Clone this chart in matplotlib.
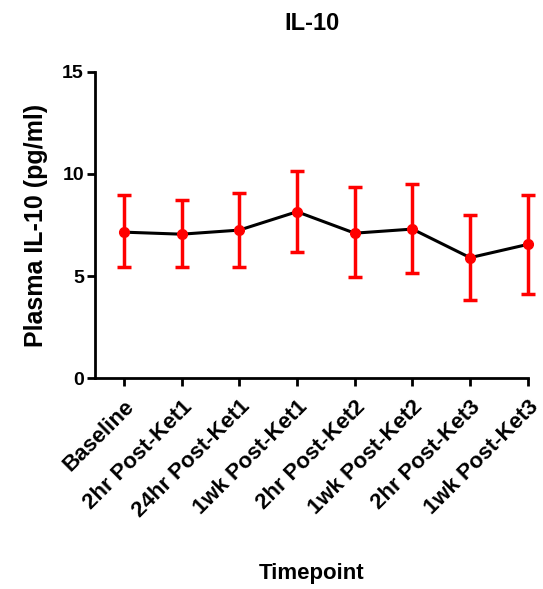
import numpy as np
import matplotlib.pyplot as plt

plt.rcParams['font.family'] = ['Liberation Sans', 'DejaVu Sans']
plt.rcParams['font.weight'] = 'bold'

timepoints = ["Baseline", "2hr Post-Ket1", "24hr Post-Ket1", "1wk Post-Ket1",
              "2hr Post-Ket2", "1wk Post-Ket2", "2hr Post-Ket3", "1wk Post-Ket3"]
means = [7.15, 7.05, 7.25, 8.15, 7.1, 7.3, 5.9, 6.55]
upper = [8.97, 8.7, 9.05, 10.15, 9.35, 9.5, 8.0, 8.95]
lower = [5.42, 5.42, 5.42, 6.2, 4.93, 5.13, 3.85, 4.1]

fig = plt.figure(figsize=(5.43, 5.89), dpi=100)
ax = fig.add_axes([0.175, 0.358, 0.797, 0.52])

x = np.arange(len(timepoints))
yerr = [np.array(means) - np.array(lower), np.array(upper) - np.array(means)]
ax.plot(x, means, color='black', lw=2.2, zorder=2, clip_on=False)
eb = ax.errorbar(x, means, yerr=yerr, fmt='o', color='red', ecolor='red',
                 elinewidth=2.5, capsize=5, capthick=2.5, markersize=7, zorder=3)
for artist in eb.lines[0:1] + eb.lines[1] + eb.lines[2]:
    artist.set_clip_on(False)

ax.set_xlim(-0.5, 7)
ax.set_ylim(0, 15)
ax.set_yticks([0, 5, 10, 15])
ax.set_xticks(x)
ax.set_xticklabels(timepoints, rotation=45, ha='right', rotation_mode='anchor')
for s in ['top', 'right']:
    ax.spines[s].set_visible(False)
for s in ['left', 'bottom']:
    ax.spines[s].set_linewidth(2)
ax.tick_params(width=2, length=6, labelsize=14)
ax.tick_params(axis='x', labelsize=16, pad=7)
ax.tick_params(axis='y', pad=2)

ax.set_ylabel("Plasma IL-10 (pg/ml)", fontsize=18, fontweight='bold')
ax.yaxis.set_label_coords(-0.108, 0.5)
ax.set_xlabel("Timepoint", fontsize=16, fontweight='bold')
ax.xaxis.set_label_coords(0.5, -0.605)
fig.text(0.574, 1 - 24 / 589, "IL-10", fontsize=17, fontweight='bold',
         ha='center', va='center')

fig.savefig("out.png", dpi=100)
